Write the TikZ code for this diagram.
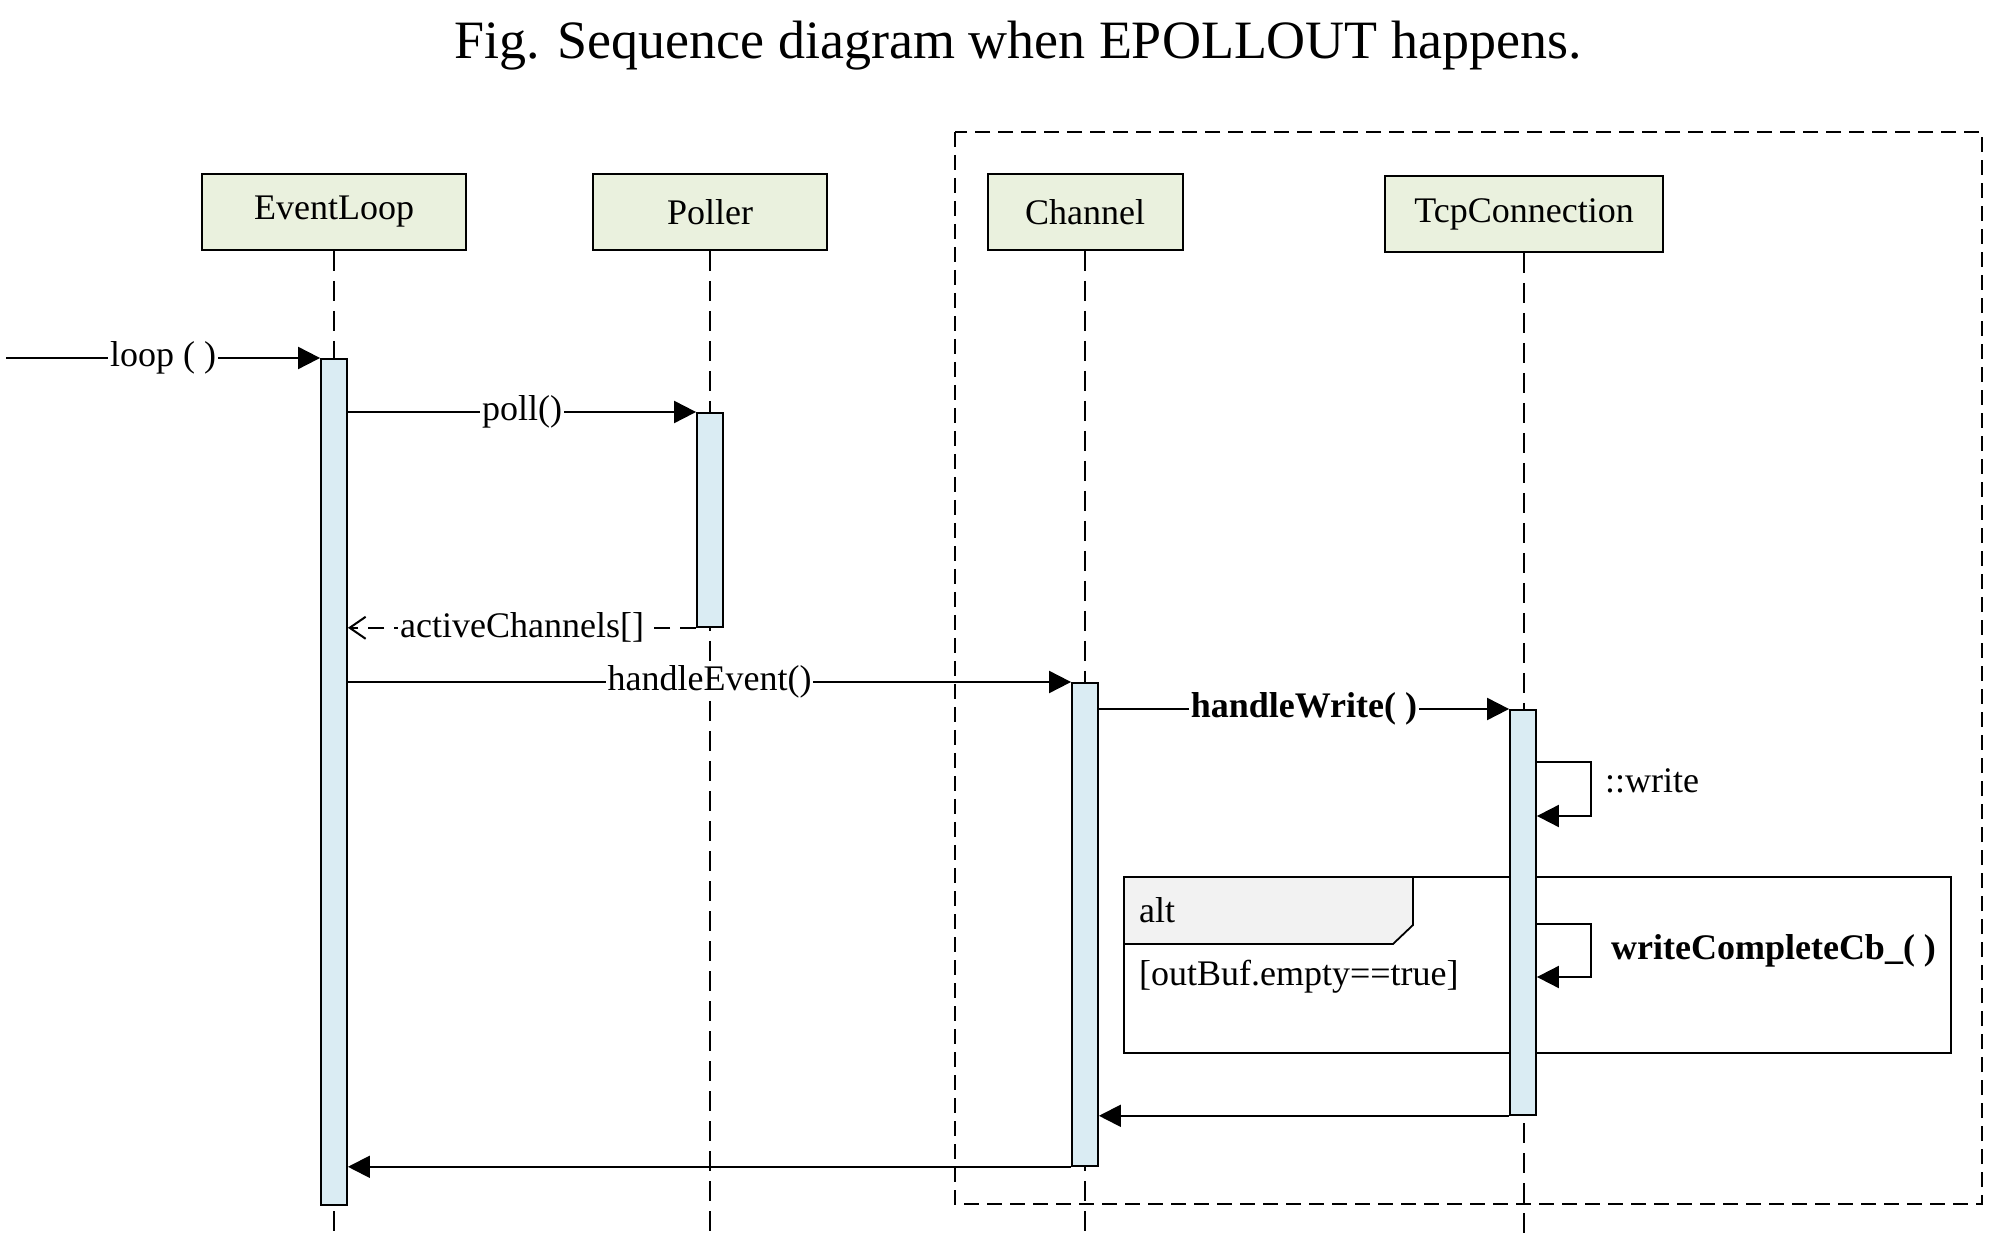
\documentclass[tikz,border=0pt]{standalone}
\usepackage{fontspec}
\setmainfont{Liberation Serif}
\usetikzlibrary{arrows.meta,positioning,calc}
\definecolor{headfill}{RGB}{234,241,222}
\definecolor{actfill}{RGB}{218,236,243}
\definecolor{tabfill}{RGB}{242,242,242}

\begin{document}
\begin{tikzpicture}[x=0.5pt,y=-0.5pt,font=\fontsize{18}{22}\selectfont,
head/.style={draw,line width=1pt,fill=headfill,minimum height=38pt,inner sep=0pt},
act/.style={draw,line width=0.9pt,fill=actfill,minimum width=13pt,inner sep=0pt,anchor=north},
lifeline/.style={line width=0.8pt,dash pattern=on 10pt off 5pt},
msg/.style={line width=1pt,-{Triangle[length=11pt,width=11pt]}},
ret/.style={line width=1pt,dash pattern=on 8pt off 5pt,-{Straight Barb[length=8pt,width=11pt]}},
lab/.style={fill=white,inner sep=1pt}]
\useasboundingbox (0,0) rectangle (1992,1234);
\node[font=\fontsize{27}{32}\selectfont] (title) at (1018,46) {Fig. Sequence diagram when EPOLLOUT happens.};
\node[head,minimum width=132pt] (el) at (334,212) {EventLoop};
\node[head,minimum width=117pt] (pl) at (710,212) {Poller};
\node[head,minimum width=97.5pt] (ch) at (1085,212) {Channel};
\node[head,minimum width=139pt] (tc) at (1524,214) {TcpConnection};
\foreach \n in {el,pl,ch,tc}
  \draw[lifeline] (\n.south) -- (\n.south |- 0,1234);
\draw[line width=0.9pt,dash pattern=on 7.5pt off 4pt] (955,132) rectangle (1982,1204);
\draw[line width=0.9pt] (1124,877) rectangle (1951,1053);
\draw[line width=0.9pt,fill=tabfill] (1124,877) -- (1413,877) -- (1413,925) -- (1393,944) -- (1124,944) -- cycle;
\node[anchor=west] (alt) at (1132,910) {alt};
\node[anchor=west] (guard) at (1132,977) {[outBuf.empty==true]};
\node[act,minimum height=423pt] (actEL) at (334,358) {};
\node[act,minimum height=107pt] (actPL) at (710,412) {};
\node[act,minimum height=241.5pt] (actCH) at (1085,682) {};
\node[act,minimum height=202.5pt] (actTC) at (1523,709) {};
\coordinate (start) at (6,358);
\draw[msg] (start) -- node[lab] {loop ( )} (actEL.north west);
\draw[msg] (actEL.east |- actPL.north) -- node[lab] {poll()} (actPL.north west);
\draw[ret] (actPL.south west) -- node[lab] {activeChannels[]} (actEL.east |- actPL.south);
\draw[msg] (actEL.east |- actCH.north) -- node[lab] {handleEvent()} (actCH.north west);
\draw[msg] (actCH.east |- actTC.north) -- node[lab,font=\fontsize{18}{22}\selectfont\bfseries] {handleWrite( )} (actTC.north west);
\draw[msg] (actTC.east |- 0,762) -- ++(54,0) -- ++(0,54) -- (actTC.east |- 0,816);
\node[anchor=west] (wr) at (1598,781) {::write};
\draw[msg] (actTC.east |- 0,924) -- ++(54,0) -- ++(0,53) -- (actTC.east |- 0,977);
\node[anchor=west,font=\fontsize{18}{22}\selectfont\bfseries] (cb) at (1604,951) {writeCompleteCb\_( )};
\draw[msg] (actTC.south west) -- (actCH.east |- actTC.south);
\draw[msg] (actCH.south west) -- (actEL.east |- actCH.south);
\end{tikzpicture}
\end{document}
